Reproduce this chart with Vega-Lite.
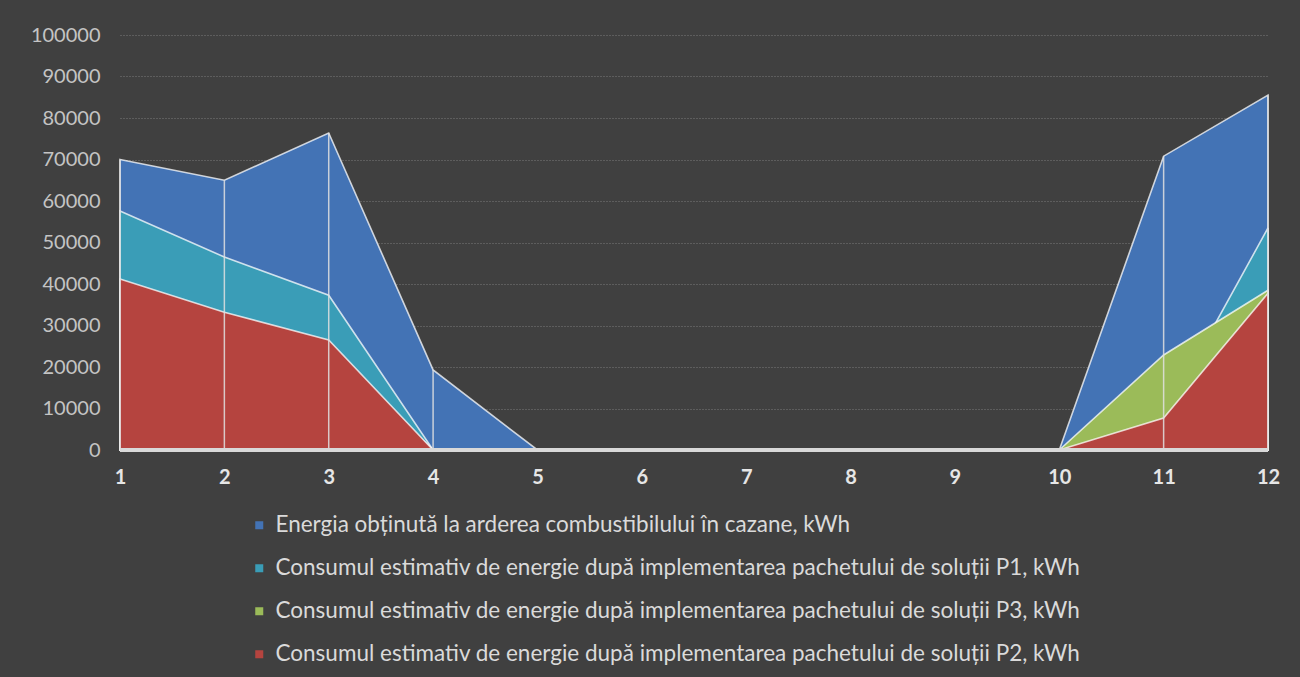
{
  "$schema": "https://vega.github.io/schema/vega-lite/v6.json",
  "width": 1148,
  "height": 415,
  "autosize": {"type": "none"},
  "padding": {"left": 120, "top": 35, "right": 32, "bottom": 227},
  "background": "#404040",
  "config": {
    "view": {"stroke": null},
    "font": "Lato"
  },
  "data": {
    "values": [
      {"month": 1, "series": "Energia obținută la arderea combustibilului în cazane, kWh", "value": 70000},
      {"month": 2, "series": "Energia obținută la arderea combustibilului în cazane, kWh", "value": 65000},
      {"month": 3, "series": "Energia obținută la arderea combustibilului în cazane, kWh", "value": 76400},
      {"month": 4, "series": "Energia obținută la arderea combustibilului în cazane, kWh", "value": 19300},
      {"month": 5, "series": "Energia obținută la arderea combustibilului în cazane, kWh", "value": 0},
      {"month": 6, "series": "Energia obținută la arderea combustibilului în cazane, kWh", "value": 0},
      {"month": 7, "series": "Energia obținută la arderea combustibilului în cazane, kWh", "value": 0},
      {"month": 8, "series": "Energia obținută la arderea combustibilului în cazane, kWh", "value": 0},
      {"month": 9, "series": "Energia obținută la arderea combustibilului în cazane, kWh", "value": 0},
      {"month": 10, "series": "Energia obținută la arderea combustibilului în cazane, kWh", "value": 0},
      {"month": 11, "series": "Energia obținută la arderea combustibilului în cazane, kWh", "value": 70800},
      {"month": 12, "series": "Energia obținută la arderea combustibilului în cazane, kWh", "value": 85500},

      {"month": 1, "series": "Consumul estimativ de energie după implementarea pachetului de soluții P1, kWh", "value": 57600},
      {"month": 2, "series": "Consumul estimativ de energie după implementarea pachetului de soluții P1, kWh", "value": 46500},
      {"month": 3, "series": "Consumul estimativ de energie după implementarea pachetului de soluții P1, kWh", "value": 37300},
      {"month": 4, "series": "Consumul estimativ de energie după implementarea pachetului de soluții P1, kWh", "value": 0},
      {"month": 5, "series": "Consumul estimativ de energie după implementarea pachetului de soluții P1, kWh", "value": 0},
      {"month": 6, "series": "Consumul estimativ de energie după implementarea pachetului de soluții P1, kWh", "value": 0},
      {"month": 7, "series": "Consumul estimativ de energie după implementarea pachetului de soluții P1, kWh", "value": 0},
      {"month": 8, "series": "Consumul estimativ de energie după implementarea pachetului de soluții P1, kWh", "value": 0},
      {"month": 9, "series": "Consumul estimativ de energie după implementarea pachetului de soluții P1, kWh", "value": 0},
      {"month": 10, "series": "Consumul estimativ de energie după implementarea pachetului de soluții P1, kWh", "value": 0},
      {"month": 11, "series": "Consumul estimativ de energie după implementarea pachetului de soluții P1, kWh", "value": 7900},
      {"month": 12, "series": "Consumul estimativ de energie după implementarea pachetului de soluții P1, kWh", "value": 53500},

      {"month": 1, "series": "Consumul estimativ de energie după implementarea pachetului de soluții P3, kWh", "value": 38000},
      {"month": 2, "series": "Consumul estimativ de energie după implementarea pachetului de soluții P3, kWh", "value": 30500},
      {"month": 3, "series": "Consumul estimativ de energie după implementarea pachetului de soluții P3, kWh", "value": 24000},
      {"month": 4, "series": "Consumul estimativ de energie după implementarea pachetului de soluții P3, kWh", "value": 0},
      {"month": 5, "series": "Consumul estimativ de energie după implementarea pachetului de soluții P3, kWh", "value": 0},
      {"month": 6, "series": "Consumul estimativ de energie după implementarea pachetului de soluții P3, kWh", "value": 0},
      {"month": 7, "series": "Consumul estimativ de energie după implementarea pachetului de soluții P3, kWh", "value": 0},
      {"month": 8, "series": "Consumul estimativ de energie după implementarea pachetului de soluții P3, kWh", "value": 0},
      {"month": 9, "series": "Consumul estimativ de energie după implementarea pachetului de soluții P3, kWh", "value": 0},
      {"month": 10, "series": "Consumul estimativ de energie după implementarea pachetului de soluții P3, kWh", "value": 0},
      {"month": 11, "series": "Consumul estimativ de energie după implementarea pachetului de soluții P3, kWh", "value": 22900},
      {"month": 12, "series": "Consumul estimativ de energie după implementarea pachetului de soluții P3, kWh", "value": 38500},

      {"month": 1, "series": "Consumul estimativ de energie după implementarea pachetului de soluții P2, kWh", "value": 41200},
      {"month": 2, "series": "Consumul estimativ de energie după implementarea pachetului de soluții P2, kWh", "value": 33200},
      {"month": 3, "series": "Consumul estimativ de energie după implementarea pachetului de soluții P2, kWh", "value": 26500},
      {"month": 4, "series": "Consumul estimativ de energie după implementarea pachetului de soluții P2, kWh", "value": 0},
      {"month": 5, "series": "Consumul estimativ de energie după implementarea pachetului de soluții P2, kWh", "value": 0},
      {"month": 6, "series": "Consumul estimativ de energie după implementarea pachetului de soluții P2, kWh", "value": 0},
      {"month": 7, "series": "Consumul estimativ de energie după implementarea pachetului de soluții P2, kWh", "value": 0},
      {"month": 8, "series": "Consumul estimativ de energie după implementarea pachetului de soluții P2, kWh", "value": 0},
      {"month": 9, "series": "Consumul estimativ de energie după implementarea pachetului de soluții P2, kWh", "value": 0},
      {"month": 10, "series": "Consumul estimativ de energie după implementarea pachetului de soluții P2, kWh", "value": 0},
      {"month": 11, "series": "Consumul estimativ de energie după implementarea pachetului de soluții P2, kWh", "value": 7700},
      {"month": 12, "series": "Consumul estimativ de energie după implementarea pachetului de soluții P2, kWh", "value": 37800}
    ]
  },
  "encoding": {
    "x": {
      "field": "month",
      "type": "quantitative",
      "scale": {"domain": [1, 12], "nice": false, "zero": false},
      "axis": {
        "title": null,
        "values": [1, 2, 3, 4, 5, 6, 7, 8, 9, 10, 11, 12],
        "grid": false,
        "ticks": false,
        "domain": false,
        "labelFont": "Lato",
        "labelFontWeight": "bold",
        "labelFontSize": 20,
        "labelColor": "#e6e6e6",
        "labelPadding": 17,
        "labelFlush": false
      }
    },
    "y": {
      "field": "value",
      "type": "quantitative",
      "scale": {"domain": [0, 100000], "nice": false},
      "axis": {
        "title": null,
        "values": [0, 10000, 20000, 30000, 40000, 50000, 60000, 70000, 80000, 90000, 100000],
        "format": "d",
        "grid": true,
        "gridColor": "#7a7a7a",
        "gridDash": [1, 2],
        "gridWidth": 1,
        "ticks": false,
        "domain": false,
        "labelFont": "Lato",
        "labelFontSize": 20,
        "labelColor": "#c4c4c4",
        "labelPadding": 20
      }
    }
  },
  "layer": [
    {
      "transform": [{"filter": "datum.series === 'Energia obținută la arderea combustibilului în cazane, kWh'"}],
      "mark": {"type": "area", "stroke": "#ffffff", "strokeOpacity": 0.75, "strokeWidth": 1.6, "fillOpacity": 1},
      "encoding": {
        "color": {"field": "series", "type": "nominal",
          "scale": {"domain": [
            "Energia obținută la arderea combustibilului în cazane, kWh",
            "Consumul estimativ de energie după implementarea pachetului de soluții P1, kWh",
            "Consumul estimativ de energie după implementarea pachetului de soluții P3, kWh",
            "Consumul estimativ de energie după implementarea pachetului de soluții P2, kWh"],
            "range": ["#4373b5", "#3a9db7", "#9bbb59", "#b5443f"]},
          "legend": {
            "title": null,
            "orient": "none",
            "legendX": 128,
            "legendY": 479,
            "direction": "vertical",
            "symbolType": "square",
            "symbolSize": 64,
            "symbolStrokeWidth": 0,
            "symbolOpacity": 1,
            "labelFont": "Lato",
            "labelFontSize": 22.5,
            "labelColor": "#dadada",
            "labelLimit": 1200,
            "labelOffset": 5,
            "rowPadding": 20
          }
        }
      }
    },
    {
      "transform": [{"filter": "datum.series === 'Consumul estimativ de energie după implementarea pachetului de soluții P1, kWh'"}],
      "mark": {"type": "area", "stroke": "#ffffff", "strokeOpacity": 0.75, "strokeWidth": 1.6, "fillOpacity": 1},
      "encoding": {"color": {"field": "series", "type": "nominal"}}
    },
    {
      "transform": [{"filter": "datum.series === 'Consumul estimativ de energie după implementarea pachetului de soluții P3, kWh'"}],
      "mark": {"type": "area", "stroke": "#ffffff", "strokeOpacity": 0.75, "strokeWidth": 1.6, "fillOpacity": 1},
      "encoding": {"color": {"field": "series", "type": "nominal"}}
    },
    {
      "transform": [{"filter": "datum.series === 'Consumul estimativ de energie după implementarea pachetului de soluții P2, kWh'"}],
      "mark": {"type": "area", "stroke": "#ffffff", "strokeOpacity": 0.75, "strokeWidth": 1.6, "fillOpacity": 1},
      "encoding": {"color": {"field": "series", "type": "nominal"}}
    },
    {
      "transform": [{"aggregate": [{"op": "max", "field": "value", "as": "maxv"}], "groupby": ["month"]}],
      "mark": {"type": "rule", "color": "#e0e0e0", "strokeWidth": 1.5, "opacity": 0.85},
      "encoding": {
        "x": {"field": "month", "type": "quantitative"},
        "y": {"field": "maxv", "type": "quantitative"},
        "y2": {"datum": 0}
      }
    },
    {
      "mark": {"type": "rule", "color": "#d9d9d9", "strokeWidth": 2.5},
      "encoding": {
        "x": {"datum": 1, "type": "quantitative"},
        "x2": {"datum": 12},
        "y": {"datum": 0, "type": "quantitative"}
      }
    }
  ]
}
